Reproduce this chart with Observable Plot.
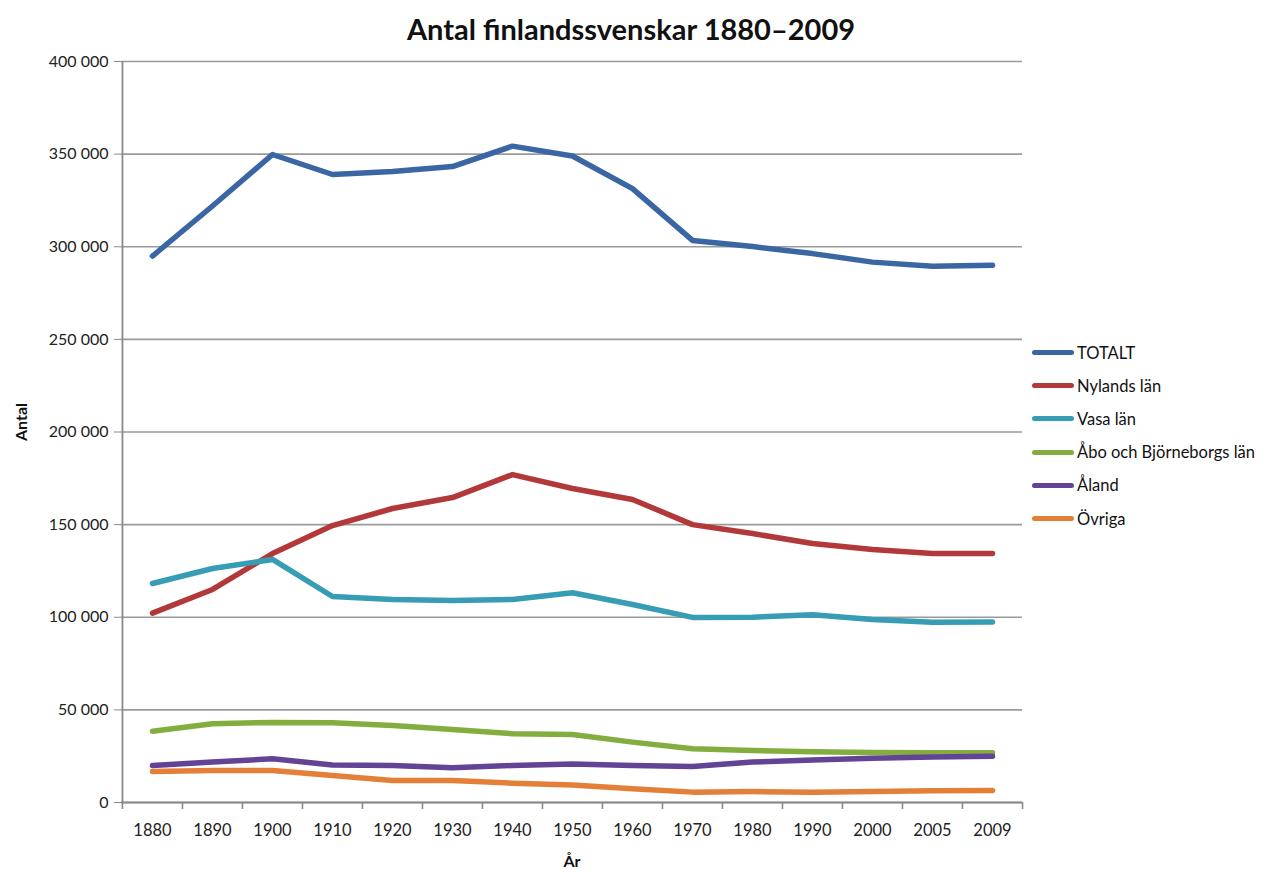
<!DOCTYPE html>
<html>
<head>
<meta charset="utf-8">
<script src="https://cdn.jsdelivr.net/npm/d3@7"></script>
<script src="https://cdn.jsdelivr.net/npm/@observablehq/plot@0.6"></script>
<style>
  body { margin: 0; background: #fff; font-family: Lato, "Open Sans", sans-serif; }
  #wrap { position: relative; width: 1262px; height: 875px; }
  #title { height: 50px; line-height: 58px; text-align: center; font-weight: bold; font-size: 29px; color: #111; }
  #legend { position: absolute; left: 1032px; top: 336px; font-size: 16.5px; color: #111; }
  .row { display: flex; align-items: center; height: 33.2px; }
  .sw { width: 42px; height: 5px; border-radius: 3px; margin-right: 3px; }
</style>
</head>
<body>
<div id="wrap">
  <div id="title">Antal finlandssvenskar 1880–2009</div>
  <div id="chart"></div>
  <div id="legend"></div>
</div>
<script>
const years = ["1880","1890","1900","1910","1920","1930","1940","1950","1960","1970","1980","1990","2000","2005","2009"];
const seriesNames = ["TOTALT","Nylands län","Vasa län","Åbo och Björneborgs län","Åland","Övriga"];
const seriesColors = ["#3b66a4","#b3383a","#369db5","#84ad40","#634395","#e47f38"];
const totalt   = [295000,322000,349800,339000,340600,343300,354300,349000,331400,303400,300100,296300,291700,289500,290000];
const nylands  = [102200,115000,134400,149500,158700,164600,177000,169500,163600,150000,145200,139800,136600,134400,134400];
const vasa     = [118200,126300,131200,111200,109600,109000,109600,113200,106900,99900,100000,101300,98800,97300,97500];
const abo      = [38500,42500,43200,43000,41600,39400,37100,36700,32600,29000,28100,27400,27000,26900,26800];
const aland    = [20000,21800,23600,20300,20000,18700,20000,20800,20000,19400,21800,23000,23900,24500,25000];
const ovriga   = [16700,17300,17300,14600,11900,11900,10400,9400,7400,5600,5900,5600,5900,6300,6500];
const yTicks   = [0,50000,100000,150000,200000,250000,300000,350000,400000];

const allSeries = [totalt, nylands, vasa, abo, aland, ovriga];
const data = [];
allSeries.forEach((vals, i) => vals.forEach((v, j) => data.push({series: seriesNames[i], year: years[j], value: v})));

const fmt = d3.formatLocale({thousands: " ", grouping: [3], decimal: ","}).format(",");

const W = 1262, H = 825;
const mL = 121, mR = 240, mT = 11, mB = 73;
const step = (W - mL - mR) / years.length;

const chart = Plot.plot({
  width: W, height: H,
  marginLeft: mL, marginRight: mR, marginTop: mT, marginBottom: mB,
  style: {fontFamily: "Lato, 'Open Sans', sans-serif", fontSize: "14px", color: "#222", background: "white"},
  x: {type: "point", domain: years, padding: 0.5, label: null},
  y: {domain: [0, 400000], label: null},
  color: {domain: seriesNames, range: seriesColors},
  marks: [
    Plot.gridY(yTicks, {stroke: "#9a9a9a", strokeOpacity: 1, strokeWidth: 1.6}),
    Plot.ruleY([0], {stroke: "#8a8a8a", strokeWidth: 1.8}),
    Plot.ruleX([years[0]], {dx: -step/2, stroke: "#8a8a8a", strokeWidth: 1.8}),
    Plot.axisY(yTicks, {tickFormat: d => fmt(d), tickSize: 7, tickPadding: 6, stroke: "#8a8a8a", fontSize: 16, fill: "#222", label: null}),
    Plot.axisX({ticks: years, text: null, tickSize: 7, dx: -step/2, stroke: "#8a8a8a", strokeWidth: 1.6}),
    Plot.axisX({ticks: [years[years.length-1]], text: null, tickSize: 7, dx: step/2, stroke: "#8a8a8a", strokeWidth: 1.6}),
    Plot.axisX({ticks: years, tickSize: 0, tickPadding: 22, fontSize: 16.5, fill: "#222", label: null}),
    Plot.line(data, {x: "year", y: "value", z: "series", stroke: "series", strokeWidth: 5.5, strokeLinejoin: "round", strokeLinecap: "round"}),
    Plot.text(["År"], {frameAnchor: "bottom", dy: 64, fontWeight: "bold", fontSize: 16, fill: "#111"}),
    Plot.text(["Antal"], {frameAnchor: "left", dx: -100, dy: 9, rotate: -90, fontWeight: "bold", fontSize: 16, fill: "#111"})
  ]
});
document.getElementById("chart").appendChild(chart);

const legend = document.getElementById("legend");
seriesNames.forEach((n, i) => {
  const row = document.createElement("div");
  row.className = "row";
  const sw = document.createElement("div");
  sw.className = "sw";
  sw.style.background = seriesColors[i];
  const t = document.createElement("span");
  t.textContent = n;
  row.appendChild(sw); row.appendChild(t);
  legend.appendChild(row);
});
</script>
</body>
</html>
